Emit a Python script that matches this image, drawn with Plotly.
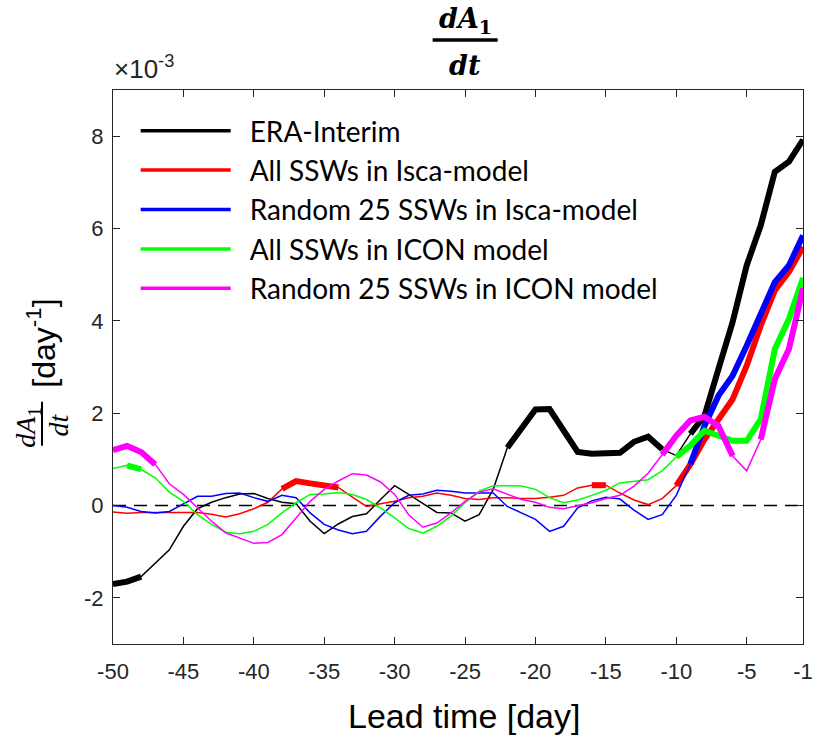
import plotly.graph_objects as go

# ---------------- data (values in units of 1e-3 day^-1) ----------------
days = list(range(-50, 0))

era_interim = [-1.70, -1.65, -1.54, -1.25, -0.96, -0.45, -0.07, 0.07, 0.17, 0.25,
               0.26, 0.15, 0.07, 0.04, -0.34, -0.61, -0.40, -0.24, -0.18, 0.13,
               0.43, 0.24, 0.04, -0.15, -0.16, -0.34, -0.20, 0.35, 1.25, 1.69,
               2.08, 2.09, 1.65, 1.16, 1.12, 1.13, 1.14, 1.38, 1.49, 1.22,
               1.08, 1.55, 1.94, 2.96, 3.97, 5.20, 6.07, 7.23, 7.45, 7.92]

isca_all = [-0.14, -0.17, -0.15, -0.15, -0.15, -0.15, -0.15, -0.19, -0.25, -0.18,
            -0.07, 0.07, 0.36, 0.53, 0.48, 0.43, 0.39, 0.18, -0.02, 0.04,
            0.09, 0.17, 0.20, 0.27, 0.22, 0.15, 0.13, 0.17, 0.17, 0.15,
            0.15, 0.18, 0.22, 0.38, 0.44, 0.44, 0.27, 0.12, 0.02, 0.15,
            0.43, 0.89, 1.43, 1.84, 2.30, 3.03, 3.90, 4.66, 5.06, 5.60]

isca_rand25 = [0.00, -0.04, -0.13, -0.16, -0.13, 0.04, 0.20, 0.20, 0.26, 0.27,
               0.17, 0.09, 0.22, 0.17, -0.16, -0.41, -0.53, -0.61, -0.56, -0.23,
               0.06, 0.22, 0.25, 0.33, 0.31, 0.27, 0.27, 0.27, -0.02, -0.16,
               -0.30, -0.56, -0.45, -0.05, 0.10, 0.18, 0.14, -0.10, -0.30, -0.20,
               0.22, 0.90, 1.72, 2.38, 2.81, 3.46, 4.19, 4.84, 5.20, 5.85]

icon_all = [0.80, 0.87, 0.78, 0.60, 0.29, 0.09, -0.20, -0.41, -0.58, -0.61,
            -0.56, -0.41, -0.16, 0.06, 0.24, 0.25, 0.28, 0.24, 0.13, -0.05,
            -0.27, -0.50, -0.60, -0.45, -0.23, 0.06, 0.31, 0.43, 0.43, 0.42,
            0.35, 0.17, 0.06, 0.12, 0.22, 0.33, 0.49, 0.52, 0.56, 0.75,
            1.05, 1.30, 1.62, 1.51, 1.40, 1.40, 1.87, 3.39, 4.04, 4.93]

icon_rand25 = [1.20, 1.29, 1.16, 0.89, 0.47, 0.24, -0.05, -0.34, -0.59, -0.70,
               -0.82, -0.80, -0.63, -0.27, 0.09, 0.35, 0.53, 0.69, 0.66, 0.51,
               0.24, -0.20, -0.47, -0.38, -0.16, 0.09, 0.29, 0.36, 0.24, 0.13,
               0.07, -0.04, -0.07, 0.00, 0.06, 0.15, 0.22, 0.42, 0.70, 1.10,
               1.51, 1.84, 1.92, 1.72, 1.07, 0.75, 1.43, 2.74, 3.39, 4.70]

# significant (thick) day ranges, inclusive
era_sig = [(-50, -48), (-22, -11), (-9, -1)]
isca_all_sig = [(-38, -34), (-16, -15), (-10, -1)]
isca_rand_sig = [(-9, -1)]
icon_all_sig = [(-49, -48), (-10, -1)]
icon_rand_sig = [(-50, -47), (-11, -6), (-4, -1)]

series_names = ["ERA-Interim", "All SSWs in Isca-model", "Random 25 SSWs in Isca-model",
                "All SSWs in ICON model", "Random 25 SSWs in ICON model"]
series_values = [era_interim, isca_all, isca_rand25, icon_all, icon_rand25]
series_sig = [era_sig, isca_all_sig, isca_rand_sig, icon_all_sig, icon_rand_sig]
series_colors = ["#000000", "#ff0000", "#0000ff", "#00ff00", "#ff00ff"]

x_tickvals = [-50, -45, -40, -35, -30, -25, -20, -15, -10, -5, -1]
y_tickvals = [-2, 0, 2, 4, 6, 8]

# ---------------- layout geometry (page body margin removed via post_script) ----------------
W, H = 823, 742
L, T = 113, 90
PW, PH = 699.5, 554.5
R, B = W - L - PW, H - T - PH


def px(xpage):
    return (xpage - L) / PW


def py(ypage):
    return (T + PH - ypage) / PH


fig = go.Figure()

for name, vals, sig, col in zip(series_names, series_values, series_sig, series_colors):
    fig.add_trace(go.Scatter(x=days, y=vals, mode="lines", line=dict(color=col, width=1.5),
                             showlegend=False, hoverinfo="skip"))
    thick = [v if any(a <= d <= b for a, b in sig) else None for d, v in zip(days, vals)]
    fig.add_trace(go.Scatter(x=days, y=thick, mode="lines", connectgaps=False,
                             line=dict(color=col, width=6), showlegend=False, hoverinfo="skip"))

for name, col in zip(series_names, series_colors):
    fig.add_trace(go.Scatter(x=[None], y=[None], mode="lines", name="\u2002" + name,
                             line=dict(color=col, width=3.5)))

fig.add_hline(y=0, line=dict(color="black", width=1.5, dash="13px,8px"), layer="below")

axis_common = dict(showline=True, linecolor="#262626", linewidth=1, mirror="ticks",
                   ticks="inside", ticklen=7, tickcolor="#262626", showgrid=False,
                   zeroline=False,
                   tickfont=dict(family="Liberation Sans, Arial", size=22, color="#262626"))

fig.update_xaxes(range=[-50, -1], tickvals=x_tickvals, ticktext=[str(v) for v in x_tickvals],
                 ticklabelstandoff=8, **axis_common)
fig.update_yaxes(range=[-3, 9], tickvals=y_tickvals, ticktext=[str(v) for v in y_tickvals],
                 ticklabelstandoff=4, **axis_common)

title_font = dict(family="DejaVu Serif", size=27, color="black")
label_font = dict(family="Liberation Serif", size=28, color="black")
annotations = [
    # title fraction
    dict(text="<b><i>dA</i><sub>1</sub></b>", x=px(470), y=py(20), xref="paper", yref="paper",
         showarrow=False, font=title_font, xanchor="center", yanchor="middle"),
    dict(text="<b><i>dt</i></b>", x=px(470), y=py(65), xref="paper", yref="paper",
         showarrow=False, font=title_font, xanchor="center", yanchor="middle"),
    # exponent label
    dict(text="×10<sup>-3</sup>", x=px(112), y=py(86), xref="paper", yref="paper",
         showarrow=False, font=dict(family="Liberation Sans, Arial", size=26, color="#262626"),
         xanchor="left", yanchor="bottom"),
    # x-axis label
    dict(text="Lead time [day]", x=px(469), y=py(717), xref="paper", yref="paper",
         showarrow=False, font=dict(family="Liberation Sans, Arial", size=34, color="black"),
         xanchor="center", yanchor="middle"),
    # y-axis label
    dict(text="[day<sup>-1</sup>]", x=px(40), y=py(343), xref="paper", yref="paper",
         showarrow=False, textangle=-90,
         font=dict(family="Liberation Sans, Arial", size=32, color="black"),
         xanchor="center", yanchor="middle"),
    dict(text="<i>dA</i><sub>1</sub>", x=px(27), y=py(428), xref="paper", yref="paper",
         showarrow=False, textangle=-90, font=label_font,
         xanchor="center", yanchor="middle"),
    dict(text="<i>dt</i>", x=px(58), y=py(425), xref="paper", yref="paper",
         showarrow=False, textangle=-90, font=label_font,
         xanchor="center", yanchor="middle"),
]

shapes = [
    dict(type="line", xref="paper", yref="paper", x0=px(437), x1=px(503), y0=py(40), y1=py(40),
         line=dict(color="black", width=3.5)),
    dict(type="line", xref="paper", yref="paper", x0=px(41), x1=px(41), y0=py(402), y1=py(446),
         line=dict(color="black", width=2)),
]

fig.update_layout(
    width=W, height=H,
    margin=dict(l=L, r=R, t=T, b=B, pad=0),
    plot_bgcolor="white", paper_bgcolor="white",
    annotations=annotations,
    shapes=list(fig.layout.shapes) + shapes,
    legend=dict(x=px(136), y=py(106), xanchor="left", yanchor="top",
                bgcolor="rgba(0,0,0,0)", borderwidth=0, itemwidth=90,
                tracegroupgap=0,
                font=dict(family="Lato", size=28, color="black")),
    showlegend=True,
)

fig.write_html("out.html", config={"displayModeBar": False},
               post_script="document.body.style.margin='0';document.body.style.overflow='hidden';")
